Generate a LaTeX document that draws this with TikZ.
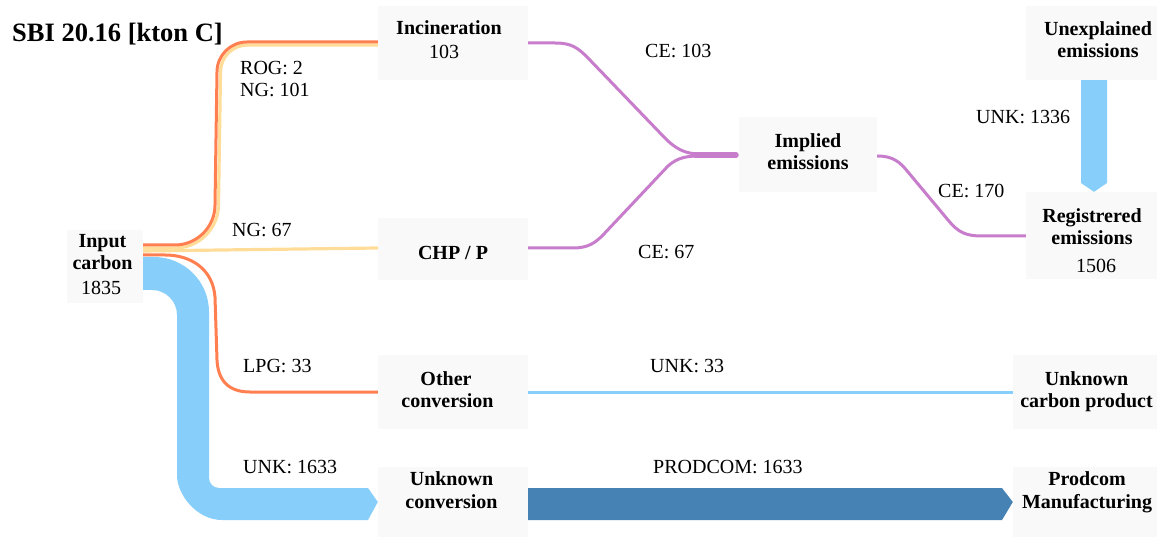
\documentclass[tikz,border=0pt]{standalone}
\usepackage{fontspec}
\setmainfont{Liberation Serif}
\definecolor{boxgray}{RGB}{249,249,249}
\definecolor{flowor}{RGB}{255,127,80}
\definecolor{flowye}{RGB}{255,221,153}
\definecolor{flowpu}{RGB}{199,125,203}
\definecolor{flowlb}{RGB}{135,206,250}
\definecolor{flowdb}{RGB}{70,130,180}
\begin{document}
\begin{tikzpicture}[x=1pt,y=-1pt,
  box/.style 2 args={fill=boxgray,draw=none,inner sep=0pt,minimum width=#1,minimum height=#2},
  btxt/.style={font=\fontsize{20}{22}\selectfont\bfseries,inner sep=0pt,anchor=base},
  rtxt/.style={font=\fontsize{20}{22}\selectfont,inner sep=0pt,anchor=base},
  lbl/.style={font=\fontsize{20}{22}\selectfont,inner sep=0pt,anchor=base west},
  orline/.style={draw=flowor,line width=3pt},
  yeline/.style={draw=flowye,line width=3.2pt},
  puline/.style={draw=flowpu,line width=3pt},
]
\useasboundingbox (0,0) rectangle (1157,537);
\fill[white] (0,0) rectangle (1157,537);

% boxes
\node[box={76}{73}]  (input)   at (105,266.5) {};
\node[box={150}{74}] (inc)     at (453,43) {};
\node[box={150}{62}] (chp)     at (453,249) {};
\node[box={150}{74}] (other)   at (453,392) {};
\node[box={150}{70}] (unkconv) at (453,502) {};
\node[box={138}{75}] (impl)    at (808,154.5) {};
\node[box={131}{74}] (unexp)   at (1091.5,43) {};
\node[box={131}{87}] (reg)     at (1091.5,235.5) {};
\node[box={144}{74}] (ukprod)  at (1085,392) {};
\node[box={144}{70}] (prodcom) at (1085,502) {};

% blue band UNK 1633
\fill[flowlb] (input.east |- 0,257) -- (154,257)
  .. controls (184.4,257) and (209,281.6) .. (209,312)
  -- (209,478) .. controls (209,483.5) and (213.5,488) .. (219,488)
  -- (368,488) -- (unkconv.west) -- (368,520)
  -- (222,520) .. controls (197.2,520) and (177,495.2) .. (177,475)
  -- (177,315) .. controls (177,301.2) and (165.8,290) .. (152,290)
  -- (input.east |- 0,290) -- cycle;

% NG 101 to incineration (yellow)
\draw[yeline] (input.east |- 0,248) -- (175,248)
  .. controls (199,248) and (218.5,228.5) .. (218.5,204.5)
  -- (220.5,72) .. controls (220.5,57) and (232.5,45) .. (247.5,45)
  -- (inc.west |- 0,45);
% ROG 2 to incineration (orange)
\draw[orline] (input.east |- 0,245) -- (175,245)
  .. controls (197,245) and (215,227) .. (215,205)
  -- (217,72) .. controls (217,55.4) and (230.4,42) .. (247,42)
  -- (inc.west |- 0,42);
% NG 67 to CHP
\draw[yeline] (input.east |- 0,251) -- (chp.west |- 0,248);
% LPG 33 to other conversion
\draw[orline] (input.east |- 0,255) -- (165,255)
  .. controls (192,255) and (213,270) .. (215,297)
  -- (217,360) .. controls (218,380) and (228,392) .. (250,392)
  -- (other.west |- 0,392);

% purple CE flows
\draw[puline] (inc.east |- 0,43) -- (555,43)
  .. controls (572,43) and (578,48) .. (588,58)
  -- (662,135) .. controls (675,149) and (685,154) .. (700,154);
\draw[puline] (chp.east |- 0,248) -- (573,248)
  .. controls (588,248) and (595,243) .. (603,235)
  -- (668,166) .. controls (678,157) and (688,156) .. (700,156);
\draw[draw=flowpu,line width=5.5pt,line cap=round] (695,155) -- (736,155);
\draw[puline] (impl.east |- 0,156) .. controls (893,156) and (900,162) .. (908,172)
  -- (948,220) .. controls (958,232) and (965,236) .. (982,236)
  -- (reg.west |- 0,236);

% UNK 33
\draw[draw=flowlb,line width=3pt] (other.east |- 0,392) -- (ukprod.west |- 0,392);
% PRODCOM 1633
\fill[flowdb] (unkconv.east |- 0,488) -- (1002,488) -- (prodcom.west) -- (1002,520)
  -- (unkconv.east |- 0,520) -- cycle;
% UNK 1336
\fill[flowlb] (1081,0 |- unexp.south) -- (1107,0 |- unexp.south) -- (1107,183)
  -- (1094,0 |- reg.north) -- (1081,183) -- cycle;

% box texts
\node[btxt] (input-a) at (102.5,248) {Input};
\node[btxt] (input-b) at (102.5,270) {carbon};
\node[rtxt] (input-c) at (101,295) {1835};
\node[btxt] (inc-a) at (449,35) {Incineration};
\node[rtxt] (inc-b) at (444,59) {103};
\node[btxt] (chp-a) at (453,260) {CHP / P};
\node[btxt] (other-a) at (446,385) {Other};
\node[btxt] (other-b) at (447.5,407) {conversion};
\node[btxt] (unkconv-a) at (451.5,485) {Unknown};
\node[btxt] (unkconv-b) at (451.5,508) {conversion};
\node[btxt] (impl-a) at (808,148) {Implied};
\node[btxt] (impl-b) at (808,170) {emissions};
\node[btxt] (unexp-a) at (1098,36) {Unexplained};
\node[btxt] (unexp-b) at (1098,58) {emissions};
\node[btxt] (reg-a) at (1092,223) {Registrered};
\node[btxt] (reg-b) at (1092,245) {emissions};
\node[rtxt] (reg-c) at (1096,273) {1506};
\node[btxt] (ukprod-a) at (1086.5,385) {Unknown};
\node[btxt] (ukprod-b) at (1086.5,407) {carbon product};
\node[btxt] (prodcom-a) at (1087,485) {Prodcom};
\node[btxt] (prodcom-b) at (1087,508) {Manufacturing};

% title and flow labels
\node[font=\fontsize{26.5}{30}\selectfont\bfseries,inner sep=0pt,anchor=base west] (title) at (12,42) {SBI 20.16 [kton C]};
\node[lbl] (l-rog) at (240,75) {ROG: 2};
\node[lbl] (l-ng101) at (240,97) {NG: 101};
\node[lbl] (l-ng67) at (232,237) {NG: 67};
\node[lbl] (l-lpg) at (243,373) {LPG: 33};
\node[lbl] (l-unk1633) at (243,473) {UNK: 1633};
\node[lbl] (l-ce103) at (645,58) {CE: 103};
\node[lbl] (l-ce67) at (638,259) {CE: 67};
\node[lbl] (l-ce170) at (938,198) {CE: 170};
\node[lbl] (l-unk1336) at (976,124) {UNK: 1336};
\node[lbl] (l-unk33) at (650,373) {UNK: 33};
\node[lbl] (l-prodcom) at (653,473) {PRODCOM: 1633};
\end{tikzpicture}
\end{document}
